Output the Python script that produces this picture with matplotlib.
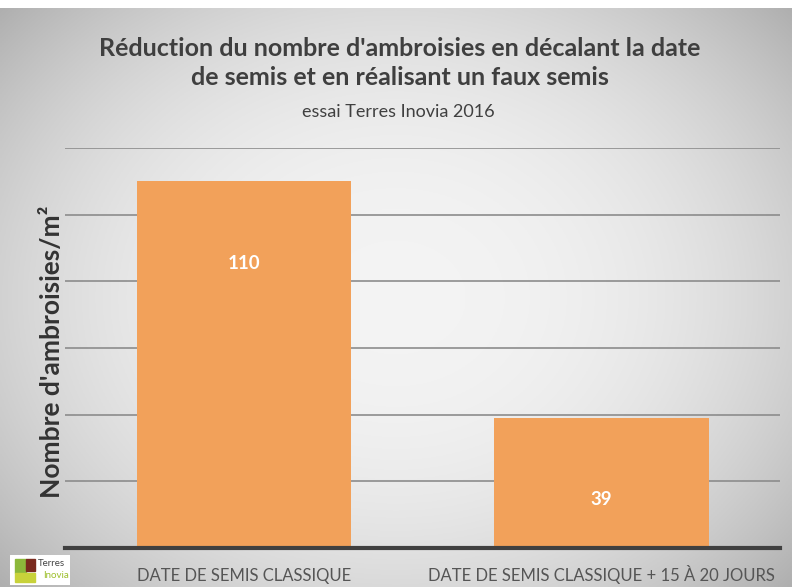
import numpy as np
import matplotlib
matplotlib.use("Agg")
import matplotlib.pyplot as plt
from matplotlib.patches import Rectangle

categories = ["DATE DE SEMIS CLASSIQUE", "DATE DE SEMIS CLASSIQUE + 15 À 20 JOURS"]
values = [110, 39]
y_ticks = [0, 20, 40, 60, 80, 100, 120]
title = "Réduction du nombre d'ambroisies en décalant la date\nde semis et en réalisant un faux semis"
subtitle = "essai Terres Inovia 2016"
ylabel = "Nombre d'ambroisies/m²"

W, H = 792, 587
fig = plt.figure(figsize=(W / 100, H / 100), dpi=100)
fig.patch.set_facecolor("white")

# background gradient
bg = fig.add_axes([0, 0, 1, 1 - 8 / H])
bg.set_axis_off()
xx, yy = np.meshgrid(np.linspace(-1, 1, 400), np.linspace(-1, 1, 300))
r = np.sqrt((xx * 0.95) ** 2 + (yy * 0.85) ** 2)
g = 0.955 - 0.15 * np.clip(r, 0, 1.4) ** 2.4
bg.imshow(np.dstack([g, g, g]), aspect="auto", extent=[0, 1, 0, 1], origin="lower")
bg.set_xlim(0, 1)
bg.set_ylim(0, 1)

left, right, bottom, top = 65, 780, 548, 148
ax = fig.add_axes([left / W, 1 - bottom / H, (right - left) / W, (bottom - top) / H])
ax.patch.set_alpha(0)
x = np.arange(len(categories))
bars = ax.bar(x, values, width=0.6, color="#f2a15a", zorder=3)
ax.set_xlim(-0.5, len(categories) - 0.5)
ax.set_ylim(0, 120)
ax.set_yticks(y_ticks)
ax.set_yticklabels([])
ax.tick_params(axis="y", length=0)
ax.tick_params(axis="x", length=0, pad=24)
ax.yaxis.grid(True, color="#8c8c8c", linewidth=1.2, zorder=0)
for s in ["top", "right", "left"]:
    ax.spines[s].set_visible(False)
ax.spines["bottom"].set_color("#404040")
ax.spines["bottom"].set_linewidth(3)
ax.spines["bottom"].set_zorder(4)
ax.set_xticks(x)
ax.set_xticklabels(categories, fontsize=12, color="#555555", family="Lato")
for lbl in ax.get_xticklabels():
    lbl.set_verticalalignment("baseline")

for xi, v in zip(x, values):
    ax.annotate(str(v), (xi, v), xytext=(0, -59), textcoords="offset points",
                ha="center", va="center", color="white", fontsize=13.5, fontweight="bold",
                family="Lato", zorder=5)

fig.text(52 / W, 1 - 352 / H, ylabel, rotation=90, ha="center", va="center",
         fontsize=19, fontweight="bold", color="#333333", family="Lato")

fig.text(400 / W, 1 - 63 / H, title, ha="center", va="center", fontsize=18,
         fontweight="bold", color="#3f3f3f", family="Lato", linespacing=1.35)
fig.text(398 / W, 1 - 112 / H, subtitle, ha="center", va="center", fontsize=13,
         color="#404040", family="Lato")

# logo
lg = fig.add_axes([10 / W, 1 - 585 / H, 60 / W, 30 / H])
lg.set_axis_off()
lg.set_xlim(0, 60)
lg.set_ylim(0, 30)
lg.add_patch(Rectangle((0, 0), 60, 30, color="white"))
lg.add_patch(Rectangle((5, 12), 11, 14, color="#8cb83a"))
lg.add_patch(Rectangle((16, 14), 9, 12, color="#7a2a1e"))
lg.add_patch(Rectangle((5, 3), 20, 9, color="#c8d23a"))
lg.text(28, 22, "Terres", fontsize=7, color="#444444", va="center", family="Lato")
lg.text(33, 9, "Inovia", fontsize=7, color="#9cbf2a", va="center", family="Lato")

fig.savefig("out.png", dpi=100)
